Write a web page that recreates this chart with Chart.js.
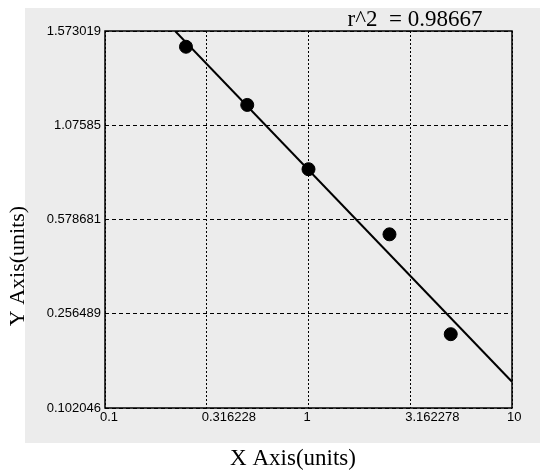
<!DOCTYPE html>
<html>
<head>
<meta charset="utf-8">
<script src="https://cdn.jsdelivr.net/npm/chart.js@4/dist/chart.umd.min.js"></script>
<style>
  body { margin: 0; background: #fff; }
  #wrap { width: 560px; height: 474px; }
</style>
</head>
<body>
<div id="wrap"><canvas id="curve" width="560" height="474"></canvas></div>
<script>
// values
const xTickValues = [0.1, 0.316228, 1, 3.162278, 10];
const xTickLabels = ['0.1', '0.316228', '1', '3.162278', '10'];
const yTickValues = [0.102046, 0.256489, 0.578681, 1.07585, 1.573019];
const yTickLabels = ['0.102046', '0.256489', '0.578681', '1.07585', '1.573019'];
const sampleX = [0.25, 0.5, 1, 2.5, 5];
const sampleY = [1.490, 1.183, 0.844, 0.528, 0.223];
const fitX = [0.221, 10];
const fitY = [1.573019, 0.1451];
const rSquared = '0.98667';

// y axis ticks are evenly spaced although their values are not:
// position between ticks is linear inside each interval
function yToPos(v) {
  const t = yTickValues;
  let i = 0;
  while (i < t.length - 2 && v > t[i + 1]) i++;
  return i + (v - t[i]) / (t[i + 1] - t[i]);
}
function posToY(p) {
  const t = yTickValues;
  let i = Math.max(0, Math.min(t.length - 2, Math.floor(p)));
  return t[i] + (p - i) * (t[i + 1] - t[i]);
}

class PiecewiseScale extends Chart.LinearScale {
  getPixelForValue(value) {
    if (value === null || isNaN(value)) return NaN;
    return this.getPixelForDecimal(yToPos(value) / (yTickValues.length - 1));
  }
  getValueForPixel(pixel) {
    return posToY(this.getDecimalForPixel(pixel) * (yTickValues.length - 1));
  }
}
PiecewiseScale.id = 'piecewise';
PiecewiseScale.defaults = Chart.LinearScale.defaults;
Chart.register(PiecewiseScale);

const decor = {
  id: 'decor',
  beforeDraw(chart) {
    const ctx = chart.ctx;
    ctx.save();
    ctx.fillStyle = '#ececec';
    ctx.fillRect(25, 8, 515, 435);
    ctx.restore();
  },
  afterDraw(chart) {
    const ctx = chart.ctx;
    const a = chart.chartArea;
    ctx.save();
    ctx.strokeStyle = '#000';
    ctx.lineWidth = 1.5;
    ctx.strokeRect(a.left, a.top, a.right - a.left, a.bottom - a.top);

    ctx.fillStyle = '#000';
    ctx.textAlign = 'center';
    ctx.textBaseline = 'middle';
    ctx.font = '23px "Liberation Serif"';
    ctx.fillText('r^2  = ' + rSquared, 415, 20);
    ctx.fillText('X Axis(units)', 293, 459);
    ctx.font = '22px "Liberation Serif"';
    ctx.translate(18, 266);
    ctx.rotate(-Math.PI / 2);
    ctx.fillText('Y Axis(units)', 0, 0);
    ctx.restore();
  }
};

const tickFont = { family: 'Liberation Sans', size: 13 };

new Chart(document.getElementById('curve'), {
  type: 'scatter',
  data: {
    datasets: [{
      label: 'fit',
      data: fitX.map((x, i) => ({ x: x, y: fitY[i] })),
      showLine: true,
      borderColor: '#000',
      borderWidth: 2,
      pointRadius: 0,
      order: 2
    }, {
      label: 'samples',
      data: sampleX.map((x, i) => ({ x: x, y: sampleY[i] })),
      backgroundColor: '#000',
      borderColor: '#000',
      pointRadius: 6.5,
      order: 1
    }]
  },
  options: {
    responsive: false,
    animation: false,
    devicePixelRatio: 1,
    events: [],
    layout: { padding: { left: 0, top: 31, right: 48, bottom: 0 } },
    plugins: { legend: { display: false }, tooltip: { enabled: false }, title: { display: false } },
    scales: {
      x: {
        type: 'logarithmic',
        min: 0.1,
        max: 10,
        afterBuildTicks: s => { s.ticks = xTickValues.map(v => ({ value: v })); },
        afterFit: s => { s.height = 66; },
        ticks: {
          autoSkip: false,
          maxRotation: 0,
          align: 'start',
          labelOffset: -5,
          padding: 2,
          color: '#000',
          font: tickFont,
          callback: (v, i) => xTickLabels[i]
        },
        grid: { color: '#000', lineWidth: 1, drawTicks: false },
        border: { display: false, dash: [2, 2] }
      },
      y: {
        type: 'piecewise',
        min: yTickValues[0],
        max: yTickValues[yTickValues.length - 1],
        afterBuildTicks: s => { s.ticks = yTickValues.map(v => ({ value: v })); },
        afterFit: s => { s.width = 105; },
        ticks: {
          autoSkip: false,
          padding: 4,
          color: '#000',
          font: tickFont,
          callback: (v, i) => yTickLabels[i]
        },
        grid: { color: '#000', lineWidth: 1, drawTicks: false },
        border: { display: false, dash: [4, 3] }
      }
    }
  },
  plugins: [decor]
});
</script>
</body>
</html>
